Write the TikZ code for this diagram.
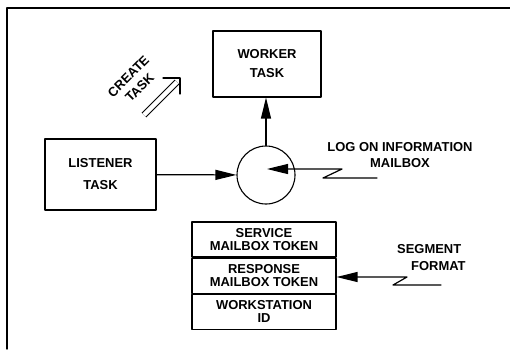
\documentclass[tikz,border=0pt]{standalone}
\usepackage{fontspec}
\setmainfont{Liberation Sans}
\usetikzlibrary{arrows.meta,positioning}
\tikzset{
	box/.style={draw,line width=1.1bp,align=center,inner sep=0pt},
	cell/.style={box,minimum width=144bp,minimum height=35bp},
	arr/.style={line width=1.2bp,-{Triangle[length=21bp,width=10bp]}},
}
\begin{document}
\begin{tikzpicture}[x=1bp,y=-1bp,line join=round,line cap=round,font=\bfseries\fontsize{13}{13}\selectfont]
	\useasboundingbox (0,0) rectangle (510,349);
	\draw[line width=1.4bp] (7,349) |- (510,8);
	
	\node[box,minimum width=108bp,minimum height=66bp] (worker) at (267,64) {WORKER\\[6bp]TASK};
	\node[box,minimum width=111bp,minimum height=71bp] (listener) at (100.5,174.5) {LISTENER\\[9bp]TASK};
	\node[draw,circle,line width=1.1bp,minimum size=58bp,inner sep=0pt] (mbx) at (266,175) {};
	
	% segment format
	\node[cell] (svc) at (264,239.5) {SERVICE\\MAILBOX TOKEN};
	\node[cell,below=0pt of svc] (resp) {RESPONSE\\MAILBOX TOKEN};
	\node[cell,below=0pt of resp] (wsid) {WORKSTATION\\ID};
	
	\draw[arr] (mbx.north) -- (mbx.north |- worker.south);
	\draw[arr] (listener) -- (mbx);
	
	\node[align=center] (logon) at (400,155) {LOG ON INFORMATION\\[3bp]MAILBOX};
	\coordinate (logend) at (377,178);
	\draw[arr] (logend) -- (323,178) -- (342,169) -- ([xshift=1bp,yshift=6bp]mbx.center);
	
	\node[align=left,anchor=west,inner sep=0pt] (segfmt) at (397,257.5) {SEGMENT\\[4bp]\hspace*{14bp}FORMAT};
	\coordinate (segend) at (441,285);
	\draw[arr] (segend) -- (393,285) -- (407,277) -- (resp.east |- 0,277);
	
	% create task
	\node[rotate=45,align=center] (create) at (134,82) {CREATE\\[3bp]TASK};
	\coordinate (ctail) at (144,115);
	\coordinate (chead) at (177,82);
	\draw[line width=1bp,line cap=butt,double distance=4.5bp] (ctail) -- (chead);
	\draw[line width=1.1bp] (163,78) -| (180,94);
\end{tikzpicture}
\end{document}
